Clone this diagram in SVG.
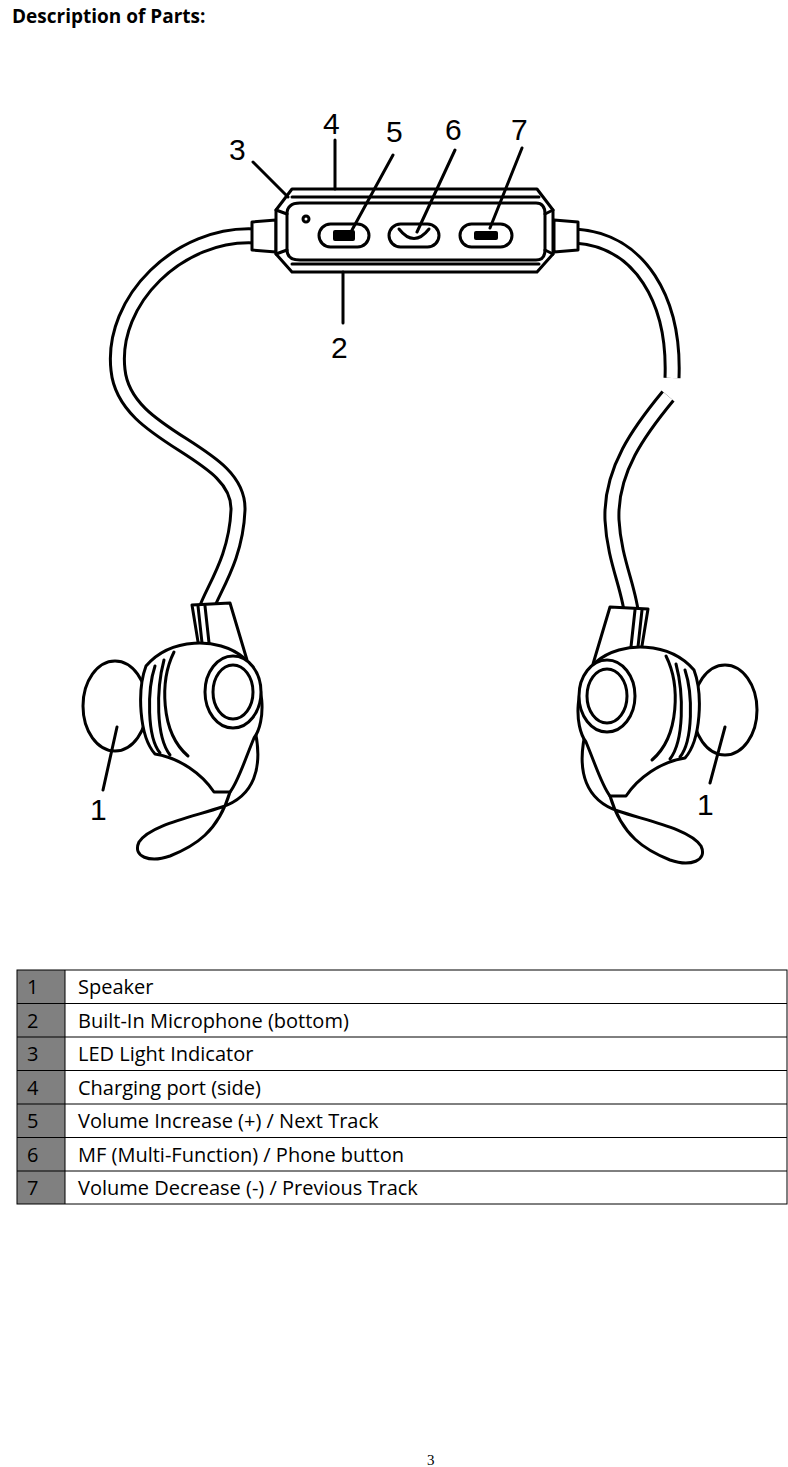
<svg xmlns="http://www.w3.org/2000/svg" width="788" height="1467" viewBox="0 0 788 1467">
<style>
.ln{fill:none;stroke:#000;stroke-width:3;stroke-linejoin:round;stroke-linecap:round}
.fw{fill:#fff;stroke:#000;stroke-width:3;stroke-linejoin:round}
.lbl{font-family:"Liberation Sans",Arial,sans-serif;font-size:30px;fill:#000}
.tx{font-family:"Open Sans","Liberation Sans",sans-serif;font-size:20px;fill:#000}
.cell{fill:none;stroke:#000;stroke-width:1}
</style>
<defs>
<g id="bud">
<path class="fw" d="M192,605 L230,603 L247,660 L200,654 Z"/>
<path class="ln" d="M198,606 L203,652 M205,606 L210,652"/>
<ellipse class="fw" cx="115" cy="706" rx="32" ry="45"/>
<path class="fw" d="M253,722 C266,770 252,797 222,807 C192,817 150,825 139,842 C132,857 150,863 170,856 C195,846 218,832 230,792 Z"/>
<path class="fw" d="M146,666 C170,638 218,636 244,658 C266,680 266,722 254,738 C244,762 238,782 230,792 L214,792 C202,774 180,758 155,754 C139,736 137,690 146,666 Z"/>
<path class="ln" d="M174,652 C160,680 160,732 188,756 M155,666 C147,690 147,737 160,753 M164,660 C156,690 156,737 170,755"/>
<ellipse class="fw" cx="233" cy="692" rx="28" ry="36"/>
<ellipse class="fw" cx="233" cy="692" rx="20" ry="27"/>
</g>
</defs>
<text x="12" y="23" font-family="'Open Sans','Liberation Sans',sans-serif" font-size="19" font-weight="bold">Description of Parts:</text>
<g id="cables">
<path d="M255,236 C180,232 110,300 118,370 C125,440 240,450 238,510 C236,560 212,590 205,612" fill="none" stroke="#000" stroke-width="17"/>
<path d="M255,236 C180,232 110,300 118,370 C125,440 240,450 238,510 C236,560 212,590 205,612" fill="none" stroke="#fff" stroke-width="11"/>
<path d="M575,236 C640,240 675,300 672,378" fill="none" stroke="#000" stroke-width="17"/>
<path d="M575,236 C640,240 675,300 672,378" fill="none" stroke="#fff" stroke-width="11"/>
<path d="M668,396 C640,430 610,470 612,520 C614,560 630,590 632,618" fill="none" stroke="#000" stroke-width="17"/>
<path d="M668,396 C640,430 610,470 612,520 C614,560 630,590 632,618" fill="none" stroke="#fff" stroke-width="11"/>
</g>
<g id="earbud-left"><use href="#bud"/></g>
<g id="earbud-right"><use href="#bud" transform="translate(840,4) scale(-1,1)"/></g>
<g id="control">
<path class="fw" d="M252,222 L276,220 L276,252 L252,250 Z"/>
<path class="fw" d="M578,222 L554,220 L554,252 L578,250 Z"/>
<path class="fw" d="M292,189 L537,189 L553,210 L553,254 L537,272 L292,272 L276,254 L276,210 Z"/>
<path class="fw" d="M300,203 L536,203 Q545,203 545,214 L545,250 Q545,260 536,260 L300,260 Q287,260 287,250 L287,214 Q287,203 300,203 Z"/>
<path class="ln" d="M292,197 L539,197 M292,264 L539,264 M276,210 L287,214 M276,254 L287,250 M553,210 L545,214 M553,254 L545,250"/>
<circle cx="306" cy="219" r="3" class="fw" stroke-width="2"/>
<rect class="fw" x="319" y="224" width="50" height="23" rx="11.5"/>
<rect x="333" y="230" width="22" height="11" rx="2"/>
<rect class="fw" x="389" y="224" width="50" height="23" rx="11.5"/>
<path class="ln" d="M399,229 Q414,248 429,229"/>
<rect class="fw" x="460" y="224" width="52" height="23" rx="11.5"/>
<rect x="474" y="231" width="24" height="9" rx="2"/>
</g>
<g id="leaders">
<path class="ln" d="M253,162 L288,197 M335,140 L335,189 M393,155 L352,230 M455,150 L417,232 M522,148 L490,228 M343,272 L343,323 M103,790 L117,727 M710,783 L725,727"/>
</g>
<g id="labels">
<text class="lbl" x="229" y="160">3</text>
<text class="lbl" x="323" y="134">4</text>
<text class="lbl" x="386" y="142">5</text>
<text class="lbl" x="445" y="140">6</text>
<text class="lbl" x="511" y="140">7</text>
<text class="lbl" x="331" y="358">2</text>
<text class="lbl" x="90" y="820">1</text>
<text class="lbl" x="697" y="815">1</text>
</g>
<g id="table">
<rect x="17" y="970" width="48" height="234" fill="#808080"/>
<rect class="cell" x="17" y="970" width="770" height="234"/>
<path class="cell" d="M65,970 V1204 M17,1003.5 H787 M17,1037 H787 M17,1070.5 H787 M17,1104 H787 M17,1137.5 H787 M17,1171 H787"/>
<g class="tx">
<text x="27" y="994">1</text><text x="78" y="994">Speaker</text>
<text x="27" y="1028">2</text><text x="78" y="1028">Built-In Microphone (bottom)</text>
<text x="27" y="1061">3</text><text x="78" y="1061">LED Light Indicator</text>
<text x="27" y="1095">4</text><text x="78" y="1095">Charging port (side)</text>
<text x="27" y="1128">5</text><text x="78" y="1128">Volume Increase (+) / Next Track</text>
<text x="27" y="1162">6</text><text x="78" y="1162">MF (Multi-Function) / Phone button</text>
<text x="27" y="1195">7</text><text x="78" y="1195">Volume Decrease (-) / Previous Track</text>
</g>
</g>
<text x="427" y="1465" font-family="'Liberation Serif',serif" font-size="15">3</text>
</svg>
